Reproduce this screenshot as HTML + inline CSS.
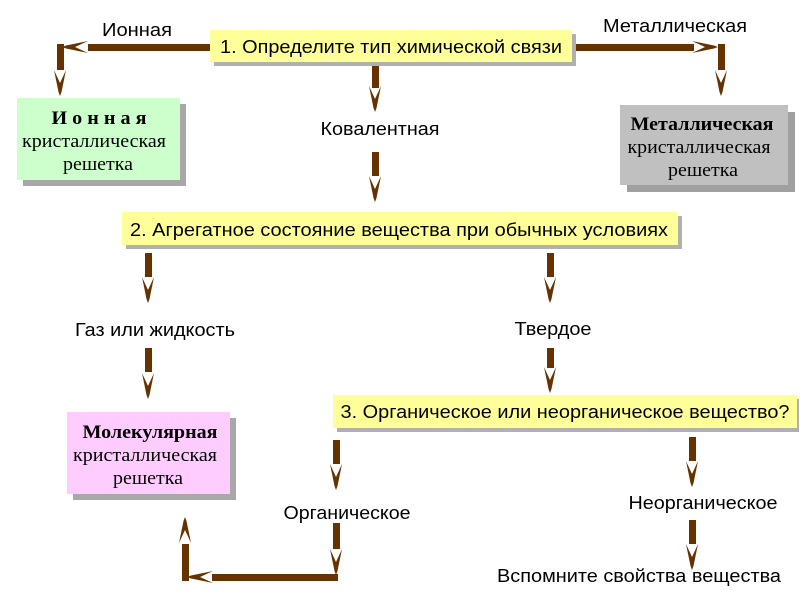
<!DOCTYPE html>
<html><head><meta charset="utf-8"><style>
body{margin:0;background:#fff;}
svg text{font-family:"Liberation Sans",sans-serif;}
.s{font-family:"Liberation Serif",serif !important;}
</style></head><body>
<svg width="800" height="600" viewBox="0 0 800 600" xmlns="http://www.w3.org/2000/svg">
<defs>
<g id="hd"><polygon points="-6,-26 0,-13 6,-26 1.5,-4 0,0 -1.5,-4" fill="#663300"/></g>
</defs>
<g fill="#663300">
<rect x="88" y="44" width="122" height="7"/>
<use href="#hd" transform="translate(62,47) rotate(90)"/>
<rect x="57" y="44" width="7" height="26"/>
<use href="#hd" transform="translate(60,96)"/>
<rect x="572" y="44" width="122" height="7"/>
<use href="#hd" transform="translate(718,47) rotate(-90)"/>
<rect x="718" y="44" width="7" height="26"/>
<use href="#hd" transform="translate(721,96)"/>
<rect x="372" y="64" width="7" height="24"/>
<use href="#hd" transform="translate(375,112)"/>
<rect x="372" y="152" width="7" height="24"/>
<use href="#hd" transform="translate(375,202)"/>
<rect x="145" y="253" width="7" height="24"/>
<use href="#hd" transform="translate(148,303)"/>
<rect x="547" y="253" width="7" height="24"/>
<use href="#hd" transform="translate(550,303)"/>
<rect x="145" y="348" width="7" height="24"/>
<use href="#hd" transform="translate(148,399)"/>
<rect x="547" y="348" width="7" height="20"/>
<use href="#hd" transform="translate(550,393)"/>
<rect x="333" y="440" width="7" height="24"/>
<use href="#hd" transform="translate(336,490)"/>
<rect x="333" y="523" width="7" height="26"/>
<use href="#hd" transform="translate(336,575)"/>
<rect x="212" y="574" width="126" height="7"/>
<use href="#hd" transform="translate(187,577) rotate(90)"/>
<rect x="182" y="544" width="7" height="37"/>
<use href="#hd" transform="translate(185,517) rotate(180)"/>
<rect x="689" y="437" width="7" height="24"/>
<use href="#hd" transform="translate(692,487)"/>
<rect x="689" y="520" width="7" height="24"/>
<use href="#hd" transform="translate(692,570)"/>
</g>
<rect x="214" y="34" width="362" height="32" fill="#b0b0b0"/>
<rect x="210" y="30" width="362" height="32" fill="#ffff99"/>
<text x="391" y="53" font-size="18" text-anchor="middle" textLength="342" lengthAdjust="spacingAndGlyphs">1. Определите тип химической связи</text>
<rect x="126" y="216" width="556" height="33" fill="#b0b0b0"/>
<rect x="122" y="212" width="556" height="33" fill="#ffff99"/>
<text x="399" y="236" font-size="18" text-anchor="middle" textLength="538" lengthAdjust="spacingAndGlyphs">2. Агрегатное состояние вещества при обычных условиях</text>
<rect x="337" y="399" width="462" height="33" fill="#b0b0b0"/>
<rect x="333" y="395" width="464" height="33" fill="#ffff99"/>
<text x="565" y="418" font-size="18" text-anchor="middle" textLength="449" lengthAdjust="spacingAndGlyphs">3. Органическое или неорганическое вещество?</text>
<rect x="23" y="104" width="163" height="82" fill="#a8a8a8"/>
<rect x="17" y="98" width="163" height="82" fill="#ccffcc"/>
<text class="s" x="99" y="124" font-size="19" font-weight="bold" text-anchor="middle" textLength="95" lengthAdjust="spacingAndGlyphs">И о н н а я</text>
<text class="s" x="94" y="147" font-size="19" text-anchor="middle" textLength="144" lengthAdjust="spacingAndGlyphs">кристаллическая</text>
<text class="s" x="98" y="170" font-size="19" text-anchor="middle" textLength="70" lengthAdjust="spacingAndGlyphs">решетка</text>
<rect x="627" y="112" width="168" height="80" fill="#a0a0a0"/>
<rect x="620" y="105" width="168" height="80" fill="#c0c0c0"/>
<text class="s" x="702" y="130" font-size="19" font-weight="bold" text-anchor="middle" textLength="143" lengthAdjust="spacingAndGlyphs">Металлическая</text>
<text class="s" x="699" y="153" font-size="19" text-anchor="middle" textLength="143" lengthAdjust="spacingAndGlyphs">кристаллическая</text>
<text class="s" x="703" y="176" font-size="19" text-anchor="middle" textLength="70" lengthAdjust="spacingAndGlyphs">решетка</text>
<rect x="73" y="418" width="163" height="82" fill="#a8a8a8"/>
<rect x="67" y="412" width="163" height="82" fill="#ffccff"/>
<text class="s" x="150" y="438" font-size="19" font-weight="bold" text-anchor="middle" textLength="135" lengthAdjust="spacingAndGlyphs">Молекулярная</text>
<text class="s" x="145" y="461" font-size="19" text-anchor="middle" textLength="144" lengthAdjust="spacingAndGlyphs">кристаллическая</text>
<text class="s" x="148" y="484" font-size="19" text-anchor="middle" textLength="70" lengthAdjust="spacingAndGlyphs">решетка</text>
<g font-size="18" text-anchor="middle" lengthAdjust="spacingAndGlyphs">
<text x="137" y="36" textLength="70" lengthAdjust="spacingAndGlyphs">Ионная</text>
<text x="675" y="32" textLength="144" lengthAdjust="spacingAndGlyphs">Металлическая</text>
<text x="380" y="135" textLength="119" lengthAdjust="spacingAndGlyphs">Ковалентная</text>
<text x="155" y="336" textLength="160" lengthAdjust="spacingAndGlyphs">Газ или жидкость</text>
<text x="553" y="335" textLength="77" lengthAdjust="spacingAndGlyphs">Твердое</text>
<text x="347" y="519" textLength="127" lengthAdjust="spacingAndGlyphs">Органическое</text>
<text x="703" y="509" textLength="149" lengthAdjust="spacingAndGlyphs">Неорганическое</text>
<text x="639" y="582" textLength="284" lengthAdjust="spacingAndGlyphs">Вспомните свойства вещества</text>
</g>
</svg>
</body></html>
